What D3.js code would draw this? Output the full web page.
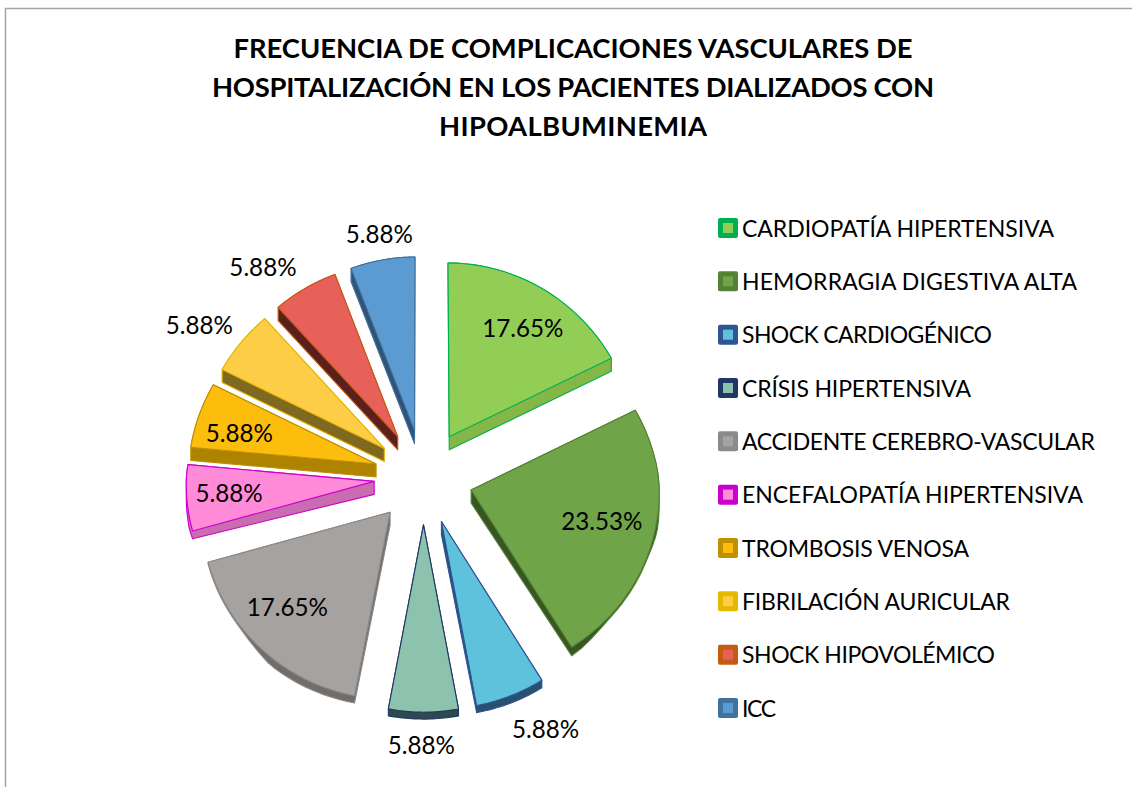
<!DOCTYPE html>
<html><head><meta charset="utf-8">
<script src="https://cdn.jsdelivr.net/npm/d3@7"></script>
<style>html,body{margin:0;padding:0;background:#fff}svg{display:block}text{font-family:Lato,"Open Sans",sans-serif;fill:#000}</style>
</head><body><svg id="c" width="1132" height="787"></svg>
<script>
const titleLines = ["FRECUENCIA DE COMPLICACIONES VASCULARES DE","HOSPITALIZACIÓN EN LOS PACIENTES DIALIZADOS CON","HIPOALBUMINEMIA"];
const categories = ["CARDIOPATÍA HIPERTENSIVA","HEMORRAGIA DIGESTIVA ALTA","SHOCK CARDIOGÉNICO","CRÍSIS HIPERTENSIVA","ACCIDENTE CEREBRO-VASCULAR","ENCEFALOPATÍA HIPERTENSIVA","TROMBOSIS VENOSA","FIBRILACIÓN AURICULAR","SHOCK HIPOVOLÉMICO","ICC"];
const values = [17.65,23.53,5.88,5.88,17.65,5.88,5.88,5.88,5.88,5.88];
const topColors = ["#92cd56","#6fa548","#5fc2dc","#8cc2ae","#a6a2a0","#ff8ad8","#fcbd0d","#fdcd47","#e8605a","#5c9ad2"];
const sideColors = ["#84b648","#375623","#2a5070","#2e4a4a","#716d6b","#c96cb0","#ad8300","#7f6820","#5a201c","#2f5478"];
const edgeColors = ["#00b050","#548235","#2f5597","#1f3864","#8a8a8a","#cc00cc","#bf9000","#e6b800","#c55a11","#41719c"];

// layout tables (not data)
const labelRadius = [130,138,234,223,139,143,139,221,216,200];
const labelDx = [8,-4,17,-2,-7,-1,-4,-16,-28,-1];
const labelDy = [-4,-6,-13,-5,-7,-1,6,3,2,-13];
const titleWidths = [679,722,268];
const legendWidths = [312,335,250,229,353,341,227,268,253,34];

const svg = d3.select("#c");
const cx=423.5, cy=477, R=186, explode=49, maxDepth=13, K=0.969, persp=0.000135, xScale=1.01;
const clamp01 = v => Math.max(0,Math.min(1,v));
const project = ([X,Y]) => { const f=1/(1-persp*Y); return [cx+X*xScale*(1+(f-1)*(Y<0?2:0.5)), cy+Y*K*f]; };
const polar = (o,a,r) => [o[0]+r*Math.sin(a), o[1]-r*Math.cos(a)];
// wall height: full on the back half, thinning along the front rim and the front flanks
const depthAt = ([X,Y]) => {
  const y=Math.max(0,Y);
  return Math.max(2,maxDepth-(y/232)*6-10*clamp01((Math.abs(X)-150)/40)*clamp01((y-40)/40));
};
const pie = d3.pie().sort(null).value(d=>d).startAngle(0).endAngle(2*Math.PI);
const arcs = pie(values);
const line = d3.line().curve(d3.curveLinear);

// frame
svg.append("path").attr("d","M5.5,787V8.5H1132").attr("fill","none").attr("stroke","#a3a3a3").attr("stroke-width",1.5);

// title
svg.append("g").selectAll("text").data(titleLines).join("text")
  .attr("x",573).attr("y",(d,i)=>58+i*39).attr("text-anchor","middle")
  .attr("font-size",27.4).attr("font-weight",700)
  .attr("textLength",(d,i)=>titleWidths[i]).attr("lengthAdjust","spacing").text(d=>d);

// slices
const g = svg.append("g");
arcs.forEach((a,i)=>{
  const mid=(a.startAngle+a.endAngle)/2;
  const apex=polar([0,0],mid,explode);
  const n=24;
  const plane=[apex].concat(d3.range(n+1).map(k=>polar(apex,a.startAngle+(a.endAngle-a.startAngle)*k/n,R)));
  const pts=plane.map(project);
  const bottom=plane.map((p,k)=>{ const s=pts[k]; return [s[0],s[1]+(k===0?maxDepth:depthAt(p))]; });
  g.append("path").attr("d",line(d3.polygonHull(pts.concat(bottom)))+"Z")
    .attr("fill",sideColors[i]).attr("stroke",edgeColors[i]).attr("stroke-width",1.1).attr("stroke-linejoin","round");
  g.append("path").attr("d",line(pts)+"Z")
    .attr("fill",topColors[i]).attr("stroke",edgeColors[i]).attr("stroke-width",1.1).attr("stroke-linejoin","round");
});

// data labels
arcs.forEach((a,i)=>{
  const mid=(a.startAngle+a.endAngle)/2;
  const apex=polar([0,0],mid,explode);
  const p=project(polar(apex,mid,labelRadius[i]));
  svg.append("text").attr("x",p[0]+labelDx[i]).attr("y",p[1]+labelDy[i]+8.5).attr("text-anchor","middle").attr("font-size",24.2).text(values[i].toFixed(2)+"%");
});

// legend
const yL=d3.scalePoint().domain(categories).range([228,708]);
const lg=svg.append("g");
categories.forEach((c,i)=>{
  const y=yL(c);
  lg.append("rect").attr("x",718).attr("y",y-10).attr("width",20).attr("height",20).attr("rx",2).attr("fill",edgeColors[i]);
  lg.append("rect").attr("x",723).attr("y",y-5).attr("width",10).attr("height",10).attr("fill",topColors[i]);
  lg.append("text").attr("x",742).attr("y",y+8.5).attr("font-size",23)
    .attr("textLength",legendWidths[i]).attr("lengthAdjust","spacing").text(c);
});
</script></body></html>
